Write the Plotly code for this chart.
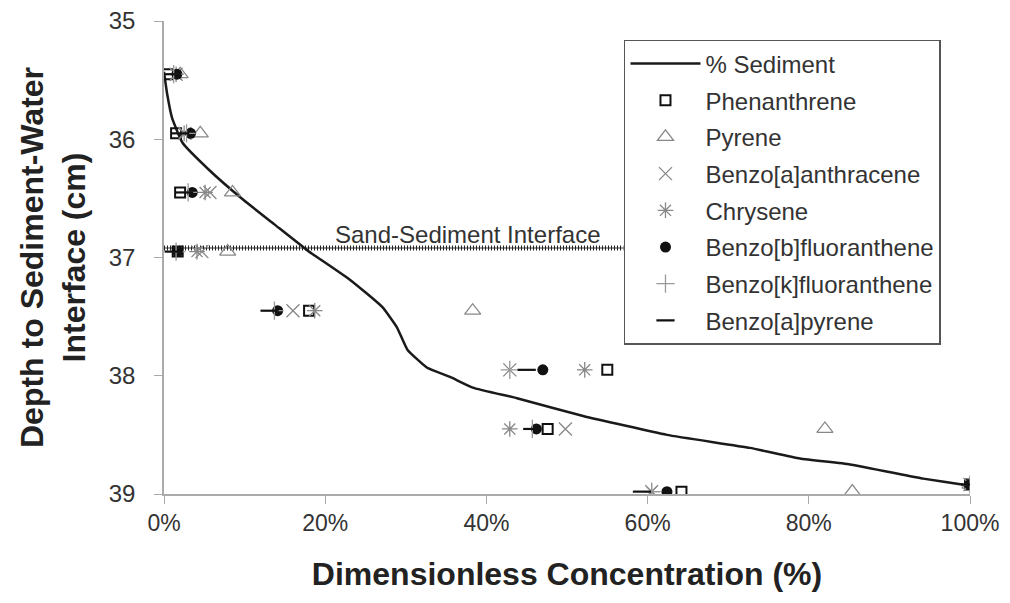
import plotly.graph_objects as go

# ---- data ----
depths = [35.45, 35.95, 36.45, 36.95, 37.45, 37.95, 38.45, 38.98, 38.92]

phenanthrene = [0.5, 1.5, 2.0, 1.7, 18.0, 55.0, 47.6, 64.2, 100]
pyrene = [2.0, 4.5, 8.5, 7.9, 38.3, None, 82.0, 85.4, 100]
benzo_a_anthracene = [1.5, 2.6, 5.7, 4.7, 16.0, 42.9, 49.8, 60.5, 100]
chrysene = [1.5, 2.5, 5.1, 4.1, 18.7, 52.2, 42.9, 60.5, 100]
benzo_b_fluoranthene = [1.6, 3.3, 3.5, 1.7, 14.1, 47.0, 46.2, 62.4, 100]
benzo_k_fluoranthene = [1.2, 2.8, 3.0, 1.5, 13.7, 42.9, 45.7, 60.5, 100]
benzo_a_pyrene = [1.0, 2.0, 2.5, 1.2, 13.1, 45.0, 45.7, 59.3, 100]

sediment_pct = [0, 0.4, 1.0, 2.3, 5.6, 9.8, 13.7, 17.8, 23.1, 27.1, 28.9, 30.2, 32.6,
                35.5, 38.3, 43.8, 52.0, 62.4, 72.7, 78.9, 85.1, 94.2, 99.0, 100]
sediment_depth = [35.43, 35.62, 35.82, 36.03, 36.26, 36.51, 36.72, 36.94, 37.19,
                  37.42, 37.59, 37.78, 37.93, 38.01, 38.10, 38.19, 38.34, 38.50,
                  38.61, 38.70, 38.75, 38.87, 38.92, 38.93]

interface_depth = 36.92
interface_x = [0, 57]

x_ticks = [0, 20, 40, 60, 80, 100]
x_tick_text = ["0%", "20%", "40%", "60%", "80%", "100%"]
y_ticks = [35, 36, 37, 38, 39]

FONT = "Liberation Sans, Arial, sans-serif"

fig = go.Figure()

# Sand-sediment interface line (not in legend)
fig.add_trace(go.Scatter(x=interface_x, y=[interface_depth] * 2, mode="lines",
                         line=dict(color="#777777", width=1.5), showlegend=False,
                         hoverinfo="skip"))
fig.add_trace(go.Scatter(x=interface_x, y=[interface_depth] * 2, mode="lines",
                         line=dict(color="#222222", width=5, dash="1px,2px"),
                         showlegend=False, hoverinfo="skip"))

fig.add_trace(go.Scatter(x=sediment_pct, y=sediment_depth, mode="lines",
                         name="% Sediment", legendgroup="a",
                         line=dict(color="#1a1a1a", width=2.5, shape="spline", smoothing=0.4)))

series = [
    ("Phenanthrene", phenanthrene, dict(symbol="square-open", size=10, color="#111111",
                                        line=dict(width=2, color="#111111"))),
    ("Pyrene", pyrene, dict(symbol="triangle-up-open", size=14, color="#888888",
                            line=dict(width=1.3, color="#888888"))),
    ("Benzo[a]anthracene", benzo_a_anthracene, dict(symbol="x-thin-open", size=13,
                                                    color="#888888",
                                                    line=dict(width=1.3, color="#888888"))),
    ("Chrysene", chrysene, dict(symbol="asterisk-open", size=13, color="#888888",
                                line=dict(width=1.3, color="#888888"))),
    ("Benzo[b]fluoranthene", benzo_b_fluoranthene, dict(symbol="circle", size=11,
                                                        color="#111111")),
    ("Benzo[k]fluoranthene", benzo_k_fluoranthene, dict(symbol="cross-thin-open", size=13,
                                                        color="#999999",
                                                        line=dict(width=1.3, color="#999999"))),
    ("Benzo[a]pyrene", benzo_a_pyrene, dict(symbol="line-ew-open", size=13, color="#111111",
                                            line=dict(width=2.2, color="#111111"))),
]
for i, (name, vals, mk) in enumerate(series):
    fig.add_trace(go.Scatter(x=vals, y=depths, mode="markers", name=name,
                             legendgroup=str(i), marker=mk))

fig.add_annotation(x=37.7, y=interface_depth, yshift=14, text="Sand-Sediment Interface",
                   showarrow=False, font=dict(family=FONT, size=24, color="#333333"))

# page body has an 8px margin: figure is sized so that it fits in the window
fig.update_layout(
    width=994, height=587,
    margin=dict(l=156, r=32, t=13, b=101, autoexpand=False),
    paper_bgcolor="white", plot_bgcolor="white",
    font=dict(family=FONT, color="#333333"),
    legend=dict(x=0.5707, y=0.96, xanchor="left", yanchor="top",
                bordercolor="#555555", borderwidth=1.5, bgcolor="white",
                font=dict(family=FONT, size=24, color="#333333"),
                tracegroupgap=2.5, traceorder="grouped", itemwidth=70),
    xaxis=dict(range=[0, 100], tickvals=x_ticks, ticktext=x_tick_text, automargin=False,
               showgrid=False, zeroline=False, showline=True, linecolor="#aaaaaa",
               linewidth=1.5, ticks="outside", ticklen=8, tickcolor="#aaaaaa",
               tickfont=dict(family=FONT, size=23, color="#333333"),
               ticklabeloverflow="allow",
               title=dict(text="<b>Dimensionless Concentration (%)</b>",
                          font=dict(family=FONT, size=32, color="#222222"), standoff=27)),
    yaxis=dict(range=[39, 35], tickvals=y_ticks, automargin=False,
               showgrid=False, zeroline=False, showline=True, linecolor="#aaaaaa",
               linewidth=1.5, ticks="outside", ticklen=8, tickcolor="#aaaaaa",
               tickfont=dict(family=FONT, size=24, color="#333333"),
               ticklabelstandoff=14, ticklabeloverflow="allow",
               title=dict(text="<b>Depth to Sediment-Water<br>Interface (cm)</b>",
                          font=dict(family=FONT, size=32, color="#222222"), standoff=14)),
)

fig.write_html("out.html")
